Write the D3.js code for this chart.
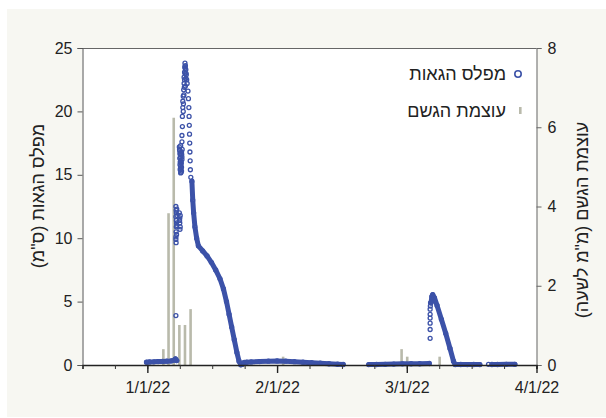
<!DOCTYPE html>
<html>
<head>
<meta charset="utf-8">
<script src="https://cdn.jsdelivr.net/npm/d3@7"></script>
<style>
  html, body { margin: 0; padding: 0; background: #ffffff; }
  svg { display: block; }
</style>
</head>
<body>
<svg id="chart" width="606" height="418"></svg>
<script>
// X values are days counted from 1 Jan 2022; the axis steps one month per 30 days.
const monthTicks = [0, 30, 60, 90];
const monthLabels = ["1/1/22", "2/1/22", "3/1/22", "4/1/22"];
const levelTicks = [0, 5, 10, 15, 20, 25];
const rainTicks = [0, 2, 4, 6, 8];

// Rain intensity (mm per hour)
const rainDays  = [3.7, 4.9, 6.1, 7.4, 8.7, 10.0, 31.4, 58.8, 60.1, 67.6];
const rainRates = [0.40, 3.83, 6.24, 1.01, 1.01, 1.41, 0.21, 0.40, 0.21, 0.21];

// Continuous water-level record (cm); null marks a gap in the record
const traceDays = [
  -0.2, 0.5, 1.5, 2.5, 3.5, 4.5, 5.5, 6.2, 6.5, 6.8, null,
  10.3, 10.5, 10.7, 11.0, 11.4, 11.8, 12.8, 13.8, 14.8, 15.8, 16.8, 17.6, 18.3, 18.9,
  19.5, 20.1, 20.7, 21.2, 21.6, 22.0, 22.4, 23.0, 24.0, 26.0, 28.0, 30.0, 32.0, 34.0,
  36.0, 38.0, 40.0, 42.0, 44.0, 45.3, null,
  51.2, 53.0, 55.0, 57.0, 59.0, 61.0, 63.0, 65.2, null,
  65.6, 65.8, 66.0, 66.4, 67.0, 68.0, 69.0, 70.0, 70.8, 71.2, 72.5, 74.0, 75.5, 76.9, null,
  79.7, 81.0, 83.0, 85.0
];
const traceLevels = [
  0.22, 0.24, 0.25, 0.27, 0.28, 0.30, 0.32, 0.38, 0.48, 0.35, null,
  14.5, 13.0, 12.0, 10.9, 10.0, 9.4, 9.0, 8.6, 8.1, 7.5, 6.8, 6.0, 5.0, 4.0,
  3.0, 2.0, 1.0, 0.3, 0.02, 0.05, 0.20, 0.22, 0.24, 0.27, 0.30, 0.32, 0.30, 0.26,
  0.22, 0.18, 0.14, 0.10, 0.06, 0.04, null,
  0.03, 0.04, 0.05, 0.07, 0.09, 0.10, 0.10, 0.12, null,
  4.9, 5.4, 5.55, 5.3, 4.7, 3.6, 2.5, 1.3, 0.3, 0.03, 0.04, 0.03, 0.04, 0.03, null,
  0.04, 0.04, 0.05, 0.05
];

// Separate readings taken while the water rose quickly
const spotDays = [
  6.6,
  6.6, 6.65, 6.7, 6.6, 6.7, 6.75, 6.7, 6.65, 6.6, 6.6, 6.65,
  6.8, 6.85, 6.8, 6.75,
  7.4, 7.5, 7.5, 7.6, 7.55, 7.45, 7.6,
  7.4, 7.5, 7.6, 7.5, 7.6, 7.7, 7.6, 7.7, 7.9, 7.9, 7.8, 8.0, 7.9,
  7.45, 7.55, 7.65, 7.7, 7.55, 7.65, 7.8, 7.85, 8.0, 7.95, 8.05, 7.7,
  8.0, 8.0, 8.1, 8.1, 8.2, 8.2, 8.3,
  8.3, 8.35, 8.45, 8.55, 8.6, 8.7, 8.75, 8.95, 8.9,
  8.4, 8.5, 8.5, 8.6, 8.65, 8.7, 8.8, 8.9, 9.0, 9.1, 8.8,
  9.2, 9.4, 9.5, 9.6, 9.65, 9.7, 9.75, 9.8, 9.85, 9.9, 9.95, 10.05,
  65.4, 65.4, 65.4, 65.4, 65.4, 65.4, 65.45, 65.5,
  78.9
];
const spotLevels = [
  3.9,
  12.5, 12.2, 12.0, 11.7, 11.4, 11.2, 10.9, 10.5, 10.1, 9.9, 9.65,
  12.3, 11.8, 11.0, 10.3,
  12.0, 11.6, 11.2, 10.9, 10.7, 11.4, 11.8,
  17.2, 16.9, 16.6, 16.3, 16.0, 15.7, 15.4, 15.15, 15.3, 15.6, 16.0, 16.4, 16.8,
  17.0, 16.7, 16.4, 16.1, 15.8, 15.5, 15.2, 15.9, 16.2, 16.6, 17.0, 17.3,
  17.6, 18.1, 18.8, 19.6, 20.3, 20.8, 21.2,
  20.0, 20.6, 21.3, 21.9, 22.5, 23.0, 23.4, 23.0, 22.6,
  21.7, 22.2, 22.7, 23.1, 23.5, 23.8, 23.6, 23.3, 22.9, 22.5, 22.0,
  22.2, 21.6, 21.0, 20.3, 19.6, 18.9, 18.2, 17.5, 16.8, 16.1, 15.4, 14.8,
  2.1, 2.8, 3.3, 3.7, 4.0, 4.4, 4.65, 4.9,
  0.05
];

const levelTitle = "מפלס הגאות (ס\"מ)";
const rainTitle = "עוצמת הגשם (מ\"מ לשעה)";
const levelLegend = "מפלס הגאות";
const rainLegend = "עוצמת הגשם";

const blue = "#3c52a8";
const grey = "#b9baab";
const ink = "#222222";
const tickFont = "'Liberation Sans', Arial, sans-serif";
const hebFont = "'Liberation Sans', 'DejaVu Sans', sans-serif";

const svg = d3.select("#chart");

// page panel
svg.append("rect").attr("x", 7).attr("y", 9).attr("width", 599).attr("height", 408)
  .attr("fill", "#f7f7f2");

const x = d3.scaleLinear().domain([-15, 90]).range([82.5, 536.5]);
const yL = d3.scaleLinear().domain([0, 25]).range([365, 48]);
const yR = d3.scaleLinear().domain([0, 8]).range([365, 48]);

// plot area
svg.append("rect")
  .attr("x", x.range()[0]).attr("y", yL.range()[1])
  .attr("width", x.range()[1] - x.range()[0])
  .attr("height", yL.range()[0] - yL.range()[1])
  .attr("fill", "#ffffff");

// top frame line
svg.append("line")
  .attr("x1", x.range()[0]).attr("x2", x.range()[1])
  .attr("y1", yL.range()[1] + 0.5).attr("y2", yL.range()[1] + 0.5)
  .attr("stroke", "#666").attr("stroke-width", 1);

// rain bars
const rain = rainDays.map((d, i) => ({ day: d, rate: rainRates[i] }));
svg.append("g").selectAll("rect").data(rain).join("rect")
  .attr("x", d => x(d.day) - 1.3)
  .attr("width", 2.6)
  .attr("y", d => yR(d.rate))
  .attr("height", d => yR(0) - yR(d.rate))
  .attr("fill", grey);

// water level: continuous record as overlapping markers
const trace = traceDays.map((d, i) => ({ day: d, level: traceLevels[i] }));
const line = d3.line()
  .defined(d => d.day !== null && d.level !== null)
  .x(d => x(d.day)).y(d => yL(d.level));
svg.append("path").datum(trace)
  .attr("d", line)
  .attr("fill", "none")
  .attr("stroke", blue)
  .attr("stroke-width", 5)
  .attr("stroke-linejoin", "round")
  .attr("stroke-linecap", "round");

const markerPts = trace.filter(d => d.day !== null)
  .concat(spotDays.map((d, i) => ({ day: d, level: spotLevels[i] })));
svg.append("g").selectAll("circle").data(markerPts).join("circle")
  .attr("cx", d => x(d.day))
  .attr("cy", d => yL(d.level))
  .attr("r", 2)
  .attr("fill", "none")
  .attr("stroke", blue)
  .attr("stroke-width", 1.3);

// left axis
const gL = svg.append("g").attr("transform", `translate(${x.range()[0]},0)`)
  .call(d3.axisLeft(yL).tickValues(levelTicks).tickSize(5).tickPadding(5));
gL.select(".domain").attr("stroke", "#555");
gL.selectAll(".tick line").attr("stroke", "#555");
gL.selectAll("text").attr("font-family", tickFont).attr("font-size", 16).attr("fill", ink);

// right axis
const gR = svg.append("g").attr("transform", `translate(${x.range()[1]},0)`)
  .call(d3.axisRight(yR).tickValues(rainTicks).tickSize(5).tickPadding(6));
gR.select(".domain").attr("stroke", "#666");
gR.selectAll(".tick line").attr("stroke", "#666");
gR.selectAll("text").attr("font-family", tickFont).attr("font-size", 16).attr("fill", ink);

// bottom axis: minor ticks every quarter month, labelled month ticks
const minorTicks = d3.range(-15, 90.1, 7.5);
const gMinor = svg.append("g").attr("transform", `translate(0,${yL(0)})`)
  .call(d3.axisBottom(x).tickValues(minorTicks).tickSize(4).tickFormat(""));
gMinor.select(".domain").attr("stroke", "#222").attr("stroke-width", 1.4);
gMinor.selectAll(".tick line").attr("stroke", "#333");
const gB = svg.append("g").attr("transform", `translate(0,${yL(0)})`)
  .call(d3.axisBottom(x).tickValues(monthTicks).tickSize(8).tickPadding(9)
    .tickFormat((d, i) => monthLabels[i]));
gB.select(".domain").remove();
gB.selectAll(".tick line").attr("stroke", "#222").attr("stroke-width", 1.4);
gB.selectAll("text").attr("font-family", tickFont).attr("font-size", 16).attr("fill", ink);

// axis titles
svg.append("text")
  .attr("transform", "translate(38,196) rotate(-90)")
  .attr("direction", "rtl")
  .attr("text-anchor", "middle")
  .attr("dominant-baseline", "central")
  .attr("font-family", hebFont).attr("font-size", 18).attr("fill", ink)
  .text(levelTitle);
svg.append("text")
  .attr("transform", "translate(582,220) rotate(-90)")
  .attr("direction", "rtl")
  .attr("text-anchor", "middle")
  .attr("dominant-baseline", "central")
  .attr("font-family", hebFont).attr("font-size", 18).attr("fill", ink)
  .text(rainTitle);

// legend
const legend = svg.append("g");
legend.append("circle").attr("cx", 518).attr("cy", 74).attr("r", 3.2)
  .attr("fill", "none").attr("stroke", blue).attr("stroke-width", 1.6);
legend.append("rect").attr("x", 519).attr("y", 107).attr("width", 2.6).attr("height", 7)
  .attr("fill", grey);
[[levelLegend, 74], [rainLegend, 111]].forEach(([label, cy]) => {
  const t = legend.append("text")
    .attr("direction", "rtl")
    .attr("text-anchor", "middle")
    .attr("dominant-baseline", "central")
    .attr("y", cy)
    .attr("font-family", hebFont).attr("font-size", 18).attr("fill", ink)
    .text(label);
  const w = t.node().getComputedTextLength();
  t.attr("x", 506 - w / 2);
});
</script>
</body>
</html>
